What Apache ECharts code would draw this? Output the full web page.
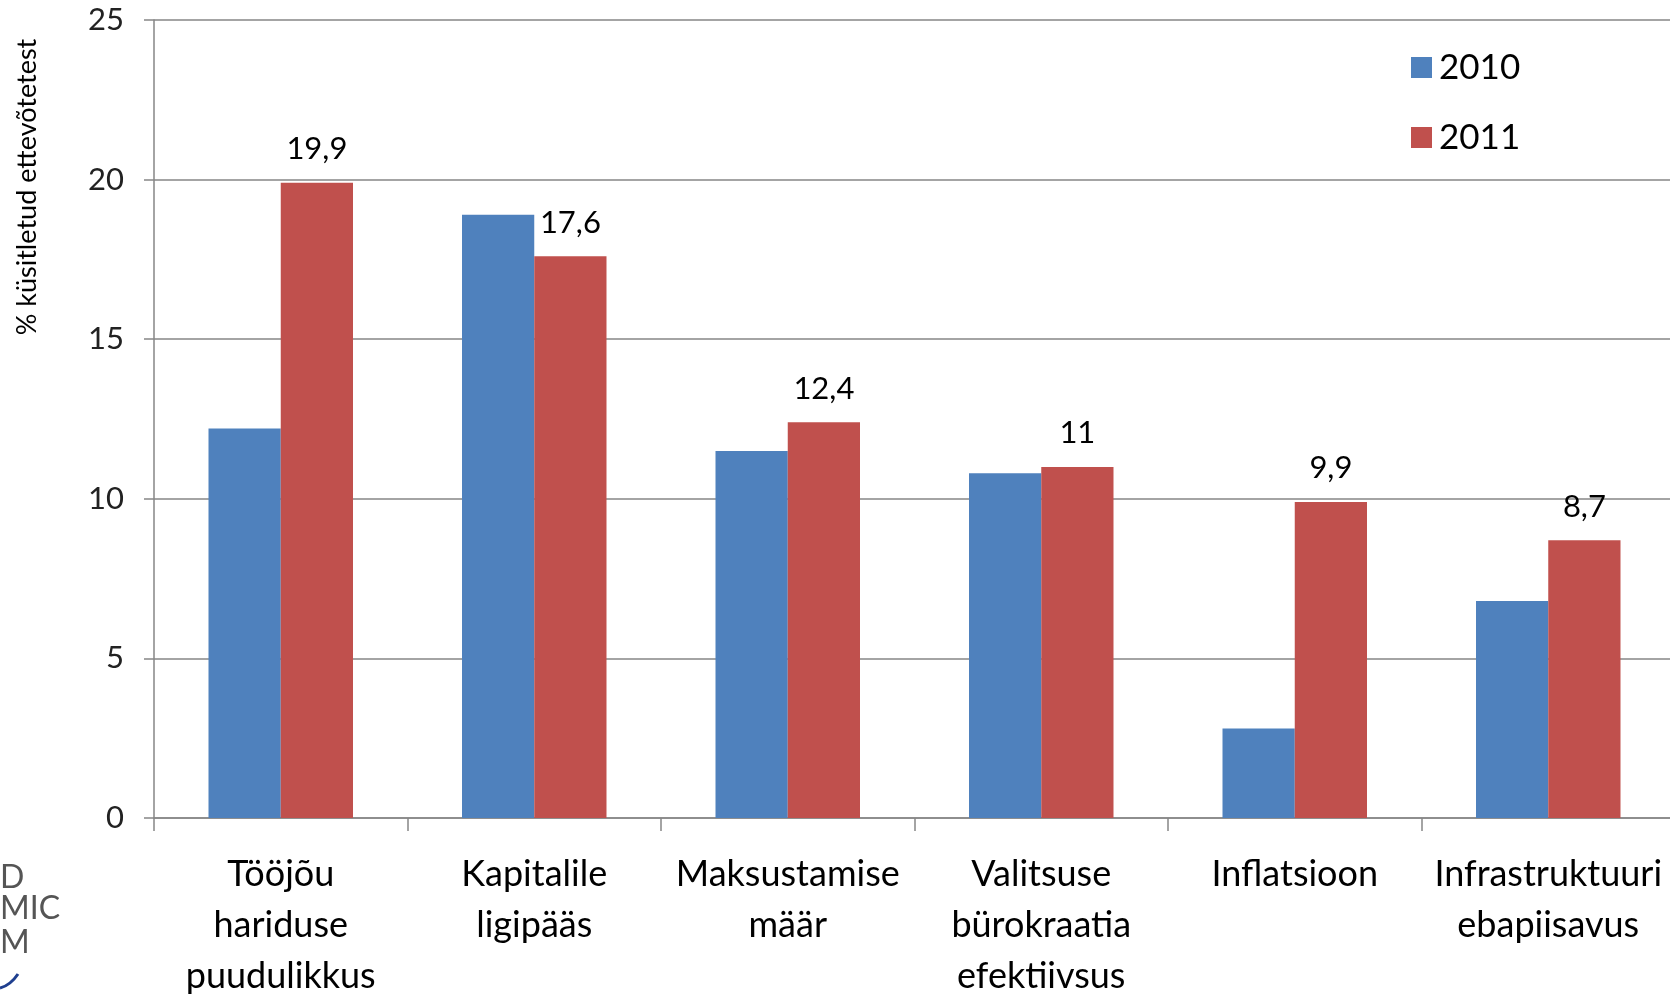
<!DOCTYPE html>
<html>
<head>
<meta charset="utf-8">
<script src="https://cdn.jsdelivr.net/npm/echarts@6/dist/echarts.min.js"></script>
<style>
  html, body { margin: 0; padding: 0; background: #fff; }
  #chart { width: 1670px; height: 995px; }
</style>
</head>
<body>
<div id="chart"></div>
<script>
const categories = [
    'Tööjõu\nhariduse\npuudulikkus',
    'Kapitalile\nligipääs',
    'Maksustamise\nmäär',
    'Valitsuse\nbürokraatia\nefektiivsus',
    'Inflatsioon',
    'Infrastruktuuri\nebapiisavus'
];
const values2010 = [12.2, 18.9, 11.5, 10.8, 2.8, 6.8];
const values2011 = [19.9, 17.6, 12.4, 11, 9.9, 8.7];
const yTicks = [0, 5, 10, 15, 20, 25];

const font = 'Lato, "Open Sans", sans-serif';
const axisGray = '#868686';

const chart = echarts.init(document.getElementById('chart'), undefined, { renderer: 'canvas' });

chart.setOption({
    animation: false,
    backgroundColor: '#fff',
    textStyle: { fontFamily: font },
    grid: { left: 154, top: 20, width: 1521, height: 798, outerBoundsMode: 'none', containLabel: false },
    legend: {
        orient: 'vertical',
        left: 1406,
        top: 45,
        itemWidth: 21,
        itemHeight: 21,
        itemGap: 35,
        icon: 'rect',
        textStyle: { fontFamily: font, fontSize: 35, color: '#000', padding: [0, 0, 0, 2] },
        data: ['2010', '2011']
    },
    xAxis: {
        type: 'category',
        data: categories,
        axisLine: { lineStyle: { color: axisGray, width: 1.5 } },
        axisTick: { show: true, length: 13, lineStyle: { color: axisGray, width: 1.5 } },
        axisLabel: {
            interval: 0,
            margin: 31,
            fontSize: 36,
            lineHeight: 51,
            color: '#000',
            fontFamily: font
        }
    },
    yAxis: {
        type: 'value',
        min: yTicks[0],
        max: yTicks[yTicks.length - 1],
        interval: 5,
        axisLine: { show: true, lineStyle: { color: axisGray, width: 1.5 } },
        axisTick: { show: true, length: 10, lineStyle: { color: axisGray, width: 1.5 } },
        axisLabel: { margin: 30, fontSize: 31, color: '#222', fontFamily: font },
        splitLine: { lineStyle: { color: axisGray, width: 1.5 } }
    },
    series: [
        {
            name: '2010',
            type: 'bar',
            data: values2010,
            itemStyle: { color: '#4F81BD' },
            barGap: '0%',
            barCategoryGap: '43%'
        },
        {
            name: '2011',
            type: 'bar',
            data: values2011,
            itemStyle: { color: '#C0504D' },
            label: {
                show: true,
                position: 'top',
                distance: 18,
                fontSize: 31,
                color: '#000',
                fontFamily: font,
                formatter: (p) => String(p.value).replace('.', ',')
            }
        }
    ],
    graphic: [
        {
            type: 'text',
            x: 27,
            y: 187,
            rotation: Math.PI / 2,
            style: {
                text: '% küsitletud ettevõtetest',
                font: '27px ' + font,
                fill: '#000',
                align: 'center',
                verticalAlign: 'middle'
            }
        },
        {
            type: 'text',
            x: 0,
            y: 862,
            style: { text: 'D', font: '32px ' + font, fill: '#555' }
        },
        {
            type: 'text',
            x: 0,
            y: 893,
            style: { text: 'MIC', font: '32px ' + font, fill: '#555' }
        },
        {
            type: 'text',
            x: 0,
            y: 927,
            style: { text: 'M', font: '32px ' + font, fill: '#555' }
        },
        {
            type: 'bezierCurve',
            shape: { x1: 0, y1: 988, x2: 18, y2: 974, cpx1: 8, cpy1: 986, cpx2: 14, cpy2: 980 },
            style: { stroke: '#1f3f8f', lineWidth: 3, fill: null }
        }
    ]
});

window.addEventListener('resize', () => chart.resize());
</script>
</body>
</html>
